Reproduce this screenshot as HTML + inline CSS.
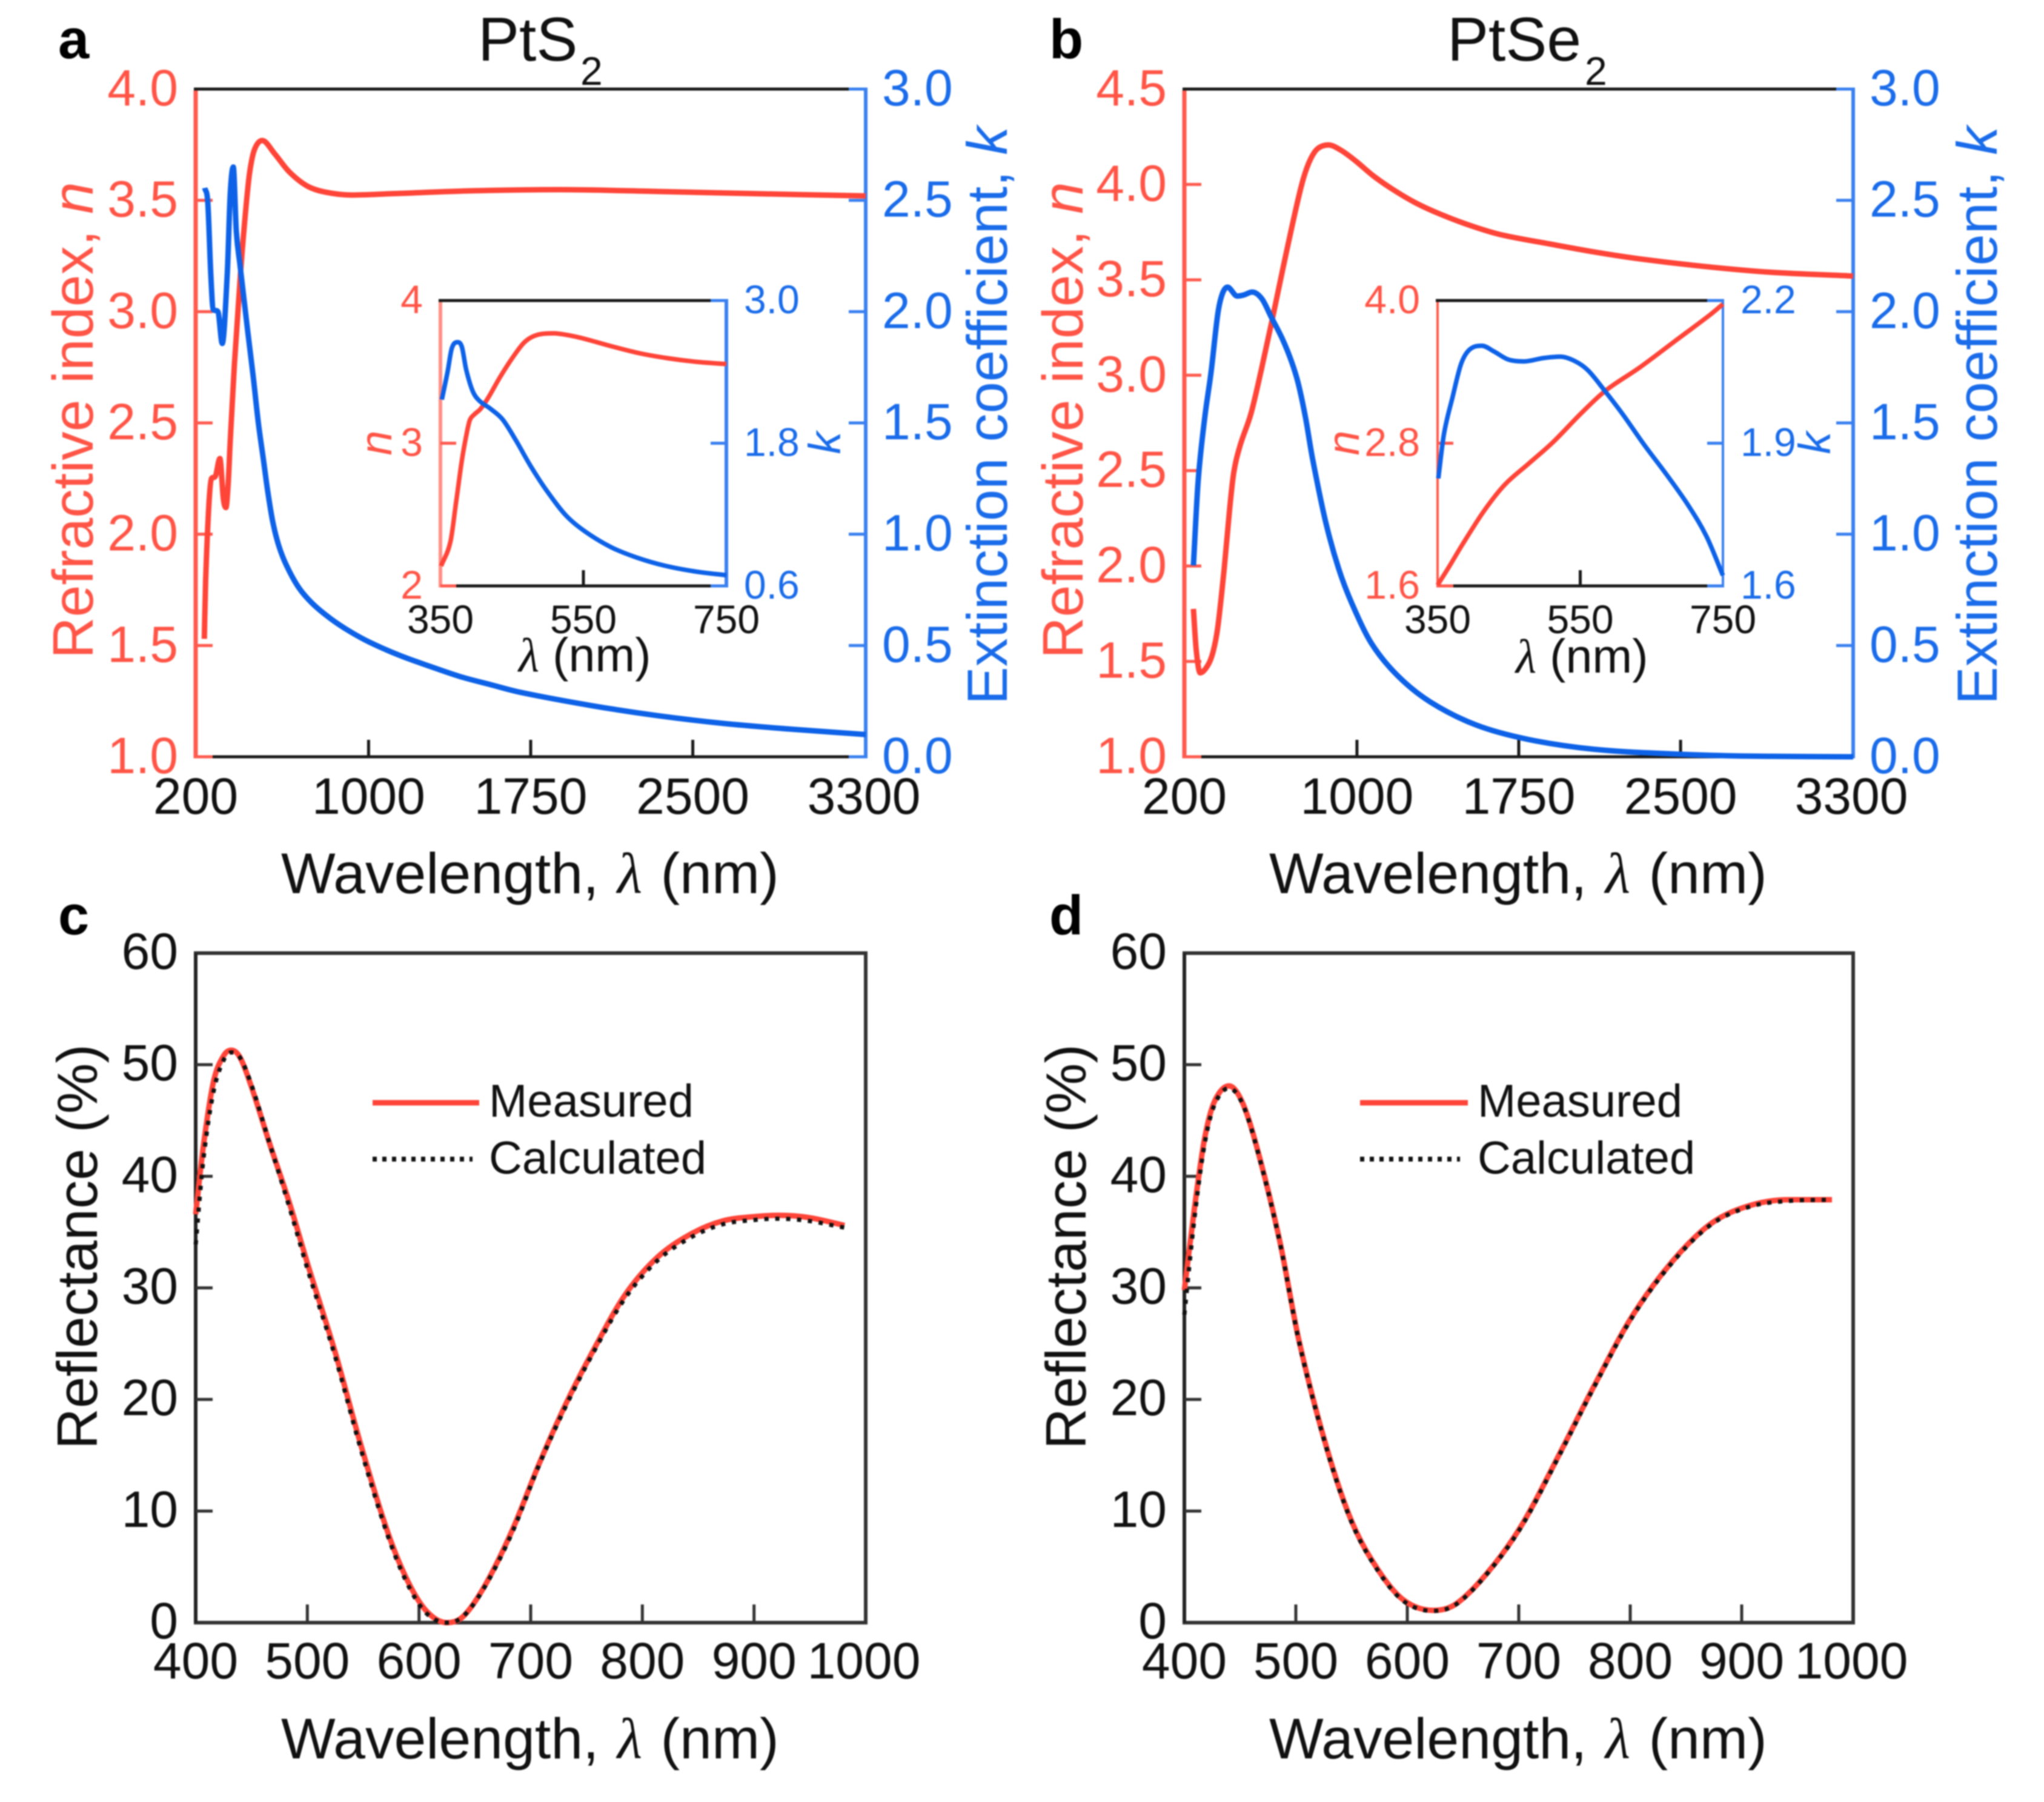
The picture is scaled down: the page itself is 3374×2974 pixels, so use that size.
<!DOCTYPE html>
<html lang="en">
<head>
<meta charset="utf-8">
<title>PtS2 and PtSe2 optical constants and reflectance</title>
<style>
html,body{margin:0;padding:0;background:#fff;}
svg{display:block;filter:blur(1px);}
text{font-family:"Liberation Sans",sans-serif;}
.lam{font-family:"Liberation Serif",serif;font-style:italic;}
.it{font-style:italic;}
.red{fill:#ff5547;}
.blue{fill:#1a6cea;}
.blk{fill:#111;}
.title{font-size:95px;}
.title-k{font-size:94px;}
.leg{font-size:76px;}
.letter{font-size:92px;font-weight:bold;fill:#000;}
</style>
</head>
<body>
<svg id="fig" xmlns="http://www.w3.org/2000/svg" width="3374" height="2974" viewBox="0 0 3374 2974">
  <rect width="3374" height="2974" fill="#fff"/>

  <text class="letter" x="96" y="96">a</text>
  <text class="letter" x="1732" y="96">b</text>
  <text class="letter" x="96" y="1542">c</text>
  <text class="letter" x="1732" y="1542">d</text>

  <text class="blk" x="789" y="100" font-size="102">PtS</text>
  <text class="blk" x="958" y="140" font-size="66">2</text>
  <text class="blk" x="2389" y="100" font-size="102">PtSe</text>
  <text class="blk" x="2616" y="140" font-size="66">2</text>

  <g id="plots"></g>

  <text class="title blk" x="464" y="1474">Wavelength, <tspan class="lam" dx="4">λ</tspan><tspan dx="4"> (nm)</tspan></text>
  <text class="title blk" x="2095" y="1474">Wavelength, <tspan class="lam" dx="4">λ</tspan><tspan dx="4"> (nm)</tspan></text>
  <text class="title blk" x="464" y="2902">Wavelength, <tspan class="lam" dx="4">λ</tspan><tspan dx="4"> (nm)</tspan></text>
  <text class="title blk" x="2095" y="2902">Wavelength, <tspan class="lam" dx="4">λ</tspan><tspan dx="4"> (nm)</tspan></text>

  <text class="title red" transform="translate(153,1087) rotate(-90)">Refractive index, <tspan class="it">n</tspan></text>
  <text class="title-k blue" transform="translate(1662,1163) rotate(-90)">Extinction coefficient, <tspan class="it">k</tspan></text>
  <text class="title red" transform="translate(1787,1087) rotate(-90)">Refractive index, <tspan class="it">n</tspan></text>
  <text class="title-k blue" transform="translate(3296,1163) rotate(-90)">Extinction coefficient, <tspan class="it">k</tspan></text>
  <text class="title-k blk" transform="translate(160,2392) rotate(-90)">Reflectance (%)</text>
  <text class="title-k blk" transform="translate(1792,2392) rotate(-90)">Reflectance (%)</text>

  <text class="blk" x="856" y="1108" font-size="79"><tspan class="lam">λ</tspan> (nm)</text>
  <text class="blk" x="2502" y="1110" font-size="79"><tspan class="lam">λ</tspan> (nm)</text>
  <text class="red it" font-size="74" text-anchor="middle" transform="translate(646,731) rotate(-90)">n</text>
  <text class="blue it" font-size="74" text-anchor="middle" transform="translate(1387,731) rotate(-90)">k</text>
  <text class="red it" font-size="74" text-anchor="middle" transform="translate(2243,731) rotate(-90)">n</text>
  <text class="blue it" font-size="74" text-anchor="middle" transform="translate(3021,731) rotate(-90)">k</text>

  <line x1="615" y1="1820" x2="791" y2="1820" stroke="#ff4438" stroke-width="9"/>
  <line x1="615" y1="1913" x2="780" y2="1913" stroke="#111" stroke-width="8" stroke-dasharray="7 9"/>
  <text class="leg blk" x="807" y="1843">Measured</text>
  <text class="leg blk" x="807" y="1937">Calculated</text>
  <line x1="2245" y1="1820" x2="2423" y2="1820" stroke="#ff4438" stroke-width="9"/>
  <line x1="2245" y1="1913" x2="2410" y2="1913" stroke="#111" stroke-width="8" stroke-dasharray="7 9"/>
  <text class="leg blk" x="2439" y="1843">Measured</text>
  <text class="leg blk" x="2439" y="1937">Calculated</text>
</svg>

<script>
/* ---------- Panel a main data ---------- */
const aNWave = [240,246,261,273,291,312,328,340,350,360,379,407,430,449,472,508,565,631,715,800,920,1108,1480,1880,2336,2792,3300];
const aNVals = [1.53,1.79,2.13,2.25,2.26,2.34,2.16,2.12,2.22,2.42,2.76,3.167,3.44,3.62,3.728,3.769,3.71,3.63,3.565,3.537,3.524,3.53,3.543,3.548,3.54,3.53,3.52];
const aKWave = [242,256,270,281,303,323,346,360,374,388,405,441,466,490,514,533,556,584,620,677,743,828,912,1004,1145,1285,1425,1565,1705,2031,2336,2640,2944,3300];
const aKVals = [2.556,2.49,2.167,2.01,2.0,1.857,2.167,2.53,2.65,2.36,2.21,1.91,1.71,1.5,1.331,1.195,1.059,0.95,0.86,0.76,0.686,0.618,0.564,0.515,0.455,0.406,0.36,0.324,0.289,0.23,0.185,0.15,0.125,0.10];
/* ---------- Panel a inset data ---------- */
const aInWaveN = [351,364,372,380,386,391,397,406,417,433,451,468,486,508,531,553,589,629,669,709,750];
const aInN = [2.14,2.31,2.59,2.88,3.05,3.16,3.2,3.24,3.32,3.46,3.6,3.71,3.76,3.77,3.755,3.73,3.68,3.63,3.595,3.57,3.555];
const aInWaveK = [352,360,366,374,380,386,395,404,420,437,455,477,500,526,553,589,624,664,708,750];
const aInK = [2.167,2.40,2.60,2.65,2.61,2.42,2.24,2.16,2.09,2.0,1.83,1.6,1.39,1.19,1.055,0.925,0.84,0.77,0.72,0.69];
/* ---------- Panel b main data ---------- */
const bNWave = [242,255,273,309,333,355,385,410,429,458,509,557,607,658,720,753,784,818,868,925,992,1076,1169,1273,1385,1525,1666,1899,2106,2309,2612,2915,3300];
const bNVals = [1.775,1.56,1.44,1.48,1.55,1.68,1.99,2.3,2.49,2.63,2.8,3.03,3.29,3.566,3.887,4.036,4.131,4.188,4.207,4.18,4.125,4.045,3.972,3.903,3.845,3.785,3.737,3.687,3.645,3.61,3.57,3.54,3.52];
const bKWave = [242,264,294,324,355,376,400,445,476,514,559,602,655,697,728,762,794,855,915,976,1067,1188,1339,1552,1794,2097,2460,2824,3300];
const bKVals = [0.86,1.24,1.52,1.73,1.99,2.08,2.11,2.07,2.075,2.088,2.058,1.977,1.876,1.775,1.677,1.522,1.34,1.055,0.846,0.69,0.51,0.365,0.247,0.143,0.078,0.034,0.013,0.003,0];
/* ---------- Panel b inset data ---------- */
const bInWaveN = [350,366,385,415,444,478,512,551,585,634,683,732,750];
const bInN = [1.607,1.76,1.95,2.23,2.45,2.63,2.81,3.05,3.24,3.44,3.66,3.88,3.97];
const bInWaveK = [351,359,371,383,395,412,429,449,471,498,522,542,561,585,610,639,673,702,727,750];
const bInK = [1.826,1.92,1.997,2.067,2.097,2.105,2.093,2.076,2.072,2.079,2.082,2.073,2.053,2.009,1.96,1.898,1.83,1.768,1.704,1.622];
/* ---------- Panel c data ---------- */
const cWave = [400,407,416,425,432,440,451,466,484,501,525,548,572,590,607,625,640,660,684,707,731,755,784,813,843,872,902,922,949,981];
const cMeasured = [36.6,42.8,48.5,50.8,51.3,50.6,47.7,43,37.6,31.9,24.2,15.9,8.1,3.7,1.0,0,0.6,3.5,8.4,14.1,19.5,24.2,29.3,32.7,34.8,36,36.4,36.5,36.3,35.6];
const cCalculated = [33.9,41.6,47.6,50.4,51.1,50.6,47.9,43,37.2,31.4,23.8,15.5,7.8,3.4,0.8,0,0.6,3.4,8.2,14,19.3,24,29,32.4,34.5,35.7,36.1,36.2,36,35.4];
/* ---------- Panel d data ---------- */
const dWave = [400,409,418,427,440,453,468,486,503,527,550,574,597,623,644,673,703,738,767,802,838,873,908,943,981];
const dMeasured = [29.8,37.1,43.3,46.7,48.1,46.4,41.5,34,25.2,15.9,9.1,4.7,2.0,1.1,1.7,4.6,8.8,15.4,21.1,27.5,32.4,35.8,37.4,37.9,37.9];
const dCalculated = [27.6,36.2,42.8,46.4,47.9,46.3,41.4,33.9,25.1,15.8,9.0,4.6,1.9,1.05,1.65,4.55,8.7,15.3,21,27.4,32.3,35.7,37.3,37.8,37.9];
/* ---------- Tick values and labels ---------- */
const mainXTicks = [200,1000,1750,2500,3300];
const mainXLabels = ['200','1000','1750','2500','3300'];
const aNTicks = [1,1.5,2,2.5,3,3.5,4];
const aNLabels = ['1.0','1.5','2.0','2.5','3.0','3.5','4.0'];
const bNTicks = [1,1.5,2,2.5,3,3.5,4,4.5];
const bNLabels = ['1.0','1.5','2.0','2.5','3.0','3.5','4.0','4.5'];
const mainKTicks = [0,0.5,1,1.5,2,2.5,3];
const mainKLabels = ['0.0','0.5','1.0','1.5','2.0','2.5','3.0'];
const insetXTicks = [350,550,750];
const insetXLabels = ['350','550','750'];
const aInNTicks = [2,3,4];
const aInNLabels = ['2','3','4'];
const aInKTicks = [0.6,1.8,3.0];
const aInKLabels = ['0.6','1.8','3.0'];
const bInNTicks = [1.6,2.8,4.0];
const bInNLabels = ['1.6','2.8','4.0'];
const bInKTicks = [1.6,1.9,2.2];
const bInKLabels = ['1.6','1.9','2.2'];
const refXTicks = [400,500,600,700,800,900,1000];
const refXLabels = ['400','500','600','700','800','900','1000'];
const refYTicks = [0,10,20,30,40,50,60];
const refYLabels = ['0','10','20','30','40','50','60'];

const SVGNS = 'http://www.w3.org/2000/svg';
const root = document.getElementById('plots');
const RED = '#ff4438', BLUE = '#0d62e8', AXRED = '#ff5a4e', AXBLUE = '#3a80f0', BLACK = '#1a1a1a';

function line(name, x1, y1, x2, y2, color, w) {
  const el = document.createElementNS(SVGNS, 'line');
  
  
  el.setAttribute('x1', x1);
  el.setAttribute('y1', y1);
  el.setAttribute('x2', x2);
  el.setAttribute('y2', y2);
  el.setAttribute('stroke', color);
  el.setAttribute('stroke-width', w);
  root.appendChild(el);
}
function label(name, x, y, txt, anchor, size, cls) {
  const el = document.createElementNS(SVGNS, 'text');
  
  
  el.setAttribute('x', x);
  el.setAttribute('y', y);
  el.setAttribute('text-anchor', anchor);
  el.setAttribute('font-size', size);
  el.setAttribute('class', cls);
  el.textContent = txt;
  root.appendChild(el);
}
function scale(d0, d1, p0, p1) {
  return function (v) { return p0 + (v - d0) * (p1 - p0) / (d1 - d0); };
}
/* Smooth cubic path: centred tangents, limited so peaks do not overshoot */
function curvePath(xs, ys) {
  const n = xs.length, m = [], t = [];
  for (let i = 0; i < n - 1; i++) t.push((ys[i + 1] - ys[i]) / (xs[i + 1] - xs[i]));
  m.push(t[0]);
  for (let i = 1; i < n - 1; i++) {
    if (t[i - 1] * t[i] <= 0) m.push(0);
    else {
      const c = (ys[i + 1] - ys[i - 1]) / (xs[i + 1] - xs[i - 1]);
      const lim = 3 * Math.min(Math.abs(t[i - 1]), Math.abs(t[i]));
      m.push(Math.sign(c) * Math.min(Math.abs(c), lim));
    }
  }
  m.push(t[n - 2]);
  let d = 'M' + xs[0].toFixed(2) + ' ' + ys[0].toFixed(2);
  for (let i = 0; i < n - 1; i++) {
    const h = (xs[i + 1] - xs[i]) / 3;
    d += 'C' + (xs[i] + h).toFixed(2) + ' ' + (ys[i] + m[i] * h).toFixed(2) + ' ' +
      (xs[i + 1] - h).toFixed(2) + ' ' + (ys[i + 1] - m[i + 1] * h).toFixed(2) + ' ' +
      xs[i + 1].toFixed(2) + ' ' + ys[i + 1].toFixed(2);
  }
  return d;
}
function series(name, wave, vals, xS, yS, color, w, dash) {
  const el = document.createElementNS(SVGNS, 'path');
  
  
  el.setAttribute('d', curvePath(wave.map(xS), vals.map(yS)));
  el.setAttribute('fill', 'none');
  el.setAttribute('stroke', color);
  el.setAttribute('stroke-width', w);
  if (dash) el.setAttribute('stroke-dasharray', dash);
  root.appendChild(el);
}

/* Dual-axis panel (n on left, k on right) */
function dual(p) {
  const xS = scale(p.xMin, p.xMax, p.l, p.r);
  const nS = scale(p.nMin, p.nMax, p.b, p.t);
  const kS = scale(p.kMin, p.kMax, p.b, p.t);
  line(p.id + '-top-axis', p.l - 3, p.t, p.r, p.t, BLACK, p.axis);
  line(p.id + '-bottom-axis', p.l, p.b, p.r, p.b, BLACK, p.axis);
  p.xTicks.forEach(function (v, i) {
    if (i > 0 && i < p.xTicks.length - 1) line(p.id + '-x-tick-' + p.xLabels[i], xS(v), p.b, xS(v), p.b - p.tick, BLACK, 5);
    label(p.id + '-x-label-' + p.xLabels[i], xS(v) + (i === p.xTicks.length - 1 ? p.lastShift : 0), p.xBase, p.xLabels[i], 'middle', p.font, 'blk');
  });
  line(p.id + '-left-axis', p.l, p.t + p.axis / 2, p.l, p.b + p.axis / 2, p.lc, p.lw);
  line(p.id + '-right-axis', p.r, p.t - p.axis / 2, p.r, p.b + p.axis / 2, AXBLUE, p.rw);
  p.nTicks.forEach(function (v, i) {
    if (v !== p.nMax) line(p.id + '-n-tick-' + p.nLabels[i], p.l, nS(v), p.l + p.tick, nS(v), AXRED, p.tw);
    label(p.id + '-n-label-' + p.nLabels[i], p.lx, nS(v) + p.dy, p.nLabels[i], 'end', p.font, 'red');
  });
  p.kTicks.forEach(function (v, i) {
    line(p.id + '-k-tick-' + p.kLabels[i], p.r, kS(v), p.r - p.tick, kS(v), AXBLUE, p.tw);
    label(p.id + '-k-label-' + p.kLabels[i], p.rx, kS(v) + p.dy, p.kLabels[i], 'start', p.font, 'blue');
  });
  series(p.id + '-curve-n', p.nWave, p.nVals, xS, nS, RED, p.cw);
  series(p.id + '-curve-k', p.kWave, p.kVals, xS, kS, BLUE, p.cw);
}

/* Reflectance panel */
function reflect(p) {
  const xS = scale(400, 1000, p.l, p.r);
  const yS = scale(0, 60, p.b, p.t);
  line(p.id + '-top-axis', p.l - 3, p.t, p.r + 3, p.t, '#333', 6);
  line(p.id + '-bottom-axis', p.l - 3, p.b, p.r + 3, p.b, '#333', 6);
  line(p.id + '-left-axis', p.l, p.t, p.l, p.b, '#222', 6);
  line(p.id + '-right-axis', p.r, p.t, p.r, p.b, '#333', 6);
  refXTicks.forEach(function (v, i) {
    if (i > 0 && i < refXTicks.length - 1) line(p.id + '-x-tick-' + refXLabels[i], xS(v), p.b, xS(v), p.b - 30, '#333', 5);
    label(p.id + '-x-label-' + refXLabels[i], xS(v) + (i === refXTicks.length - 1 ? -3 : 0), 2770, refXLabels[i], 'middle', 84, 'blk');
  });
  refYTicks.forEach(function (v, i) {
    if (i > 0 && i < refYTicks.length - 1) line(p.id + '-y-tick-' + refYLabels[i], p.l, yS(v), p.l + 28, yS(v), '#333', 5);
    label(p.id + '-y-label-' + refYLabels[i], p.lx, yS(v) + 26, refYLabels[i], 'end', 84, 'blk');
  });
  series(p.id + '-curve-measured', p.wave, p.meas, xS, yS, RED, 9);
  series(p.id + '-curve-calculated', p.wave, p.calc, xS, yS, '#111', 7, '7 11');
}

dual({id:'panel-a',l:323,r:1429,t:147,b:1249,xMin:200,xMax:3300,nMin:1,nMax:4,kMin:0,kMax:3,
  xTicks:mainXTicks,xLabels:mainXLabels,nTicks:aNTicks,nLabels:aNLabels,kTicks:mainKTicks,kLabels:mainKLabels,
  nWave:aNWave,nVals:aNVals,kWave:aKWave,kVals:aKVals,lc:AXRED,
  axis:5,lw:7,rw:6,tw:5,tick:28,cw:9,font:84,lx:294,rx:1456,dy:27,xBase:1343,lastShift:-3});
dual({id:'panel-b',l:1955,r:3059,t:147,b:1249,xMin:200,xMax:3300,nMin:1,nMax:4.5,kMin:0,kMax:3,
  xTicks:mainXTicks,xLabels:mainXLabels,nTicks:bNTicks,nLabels:bNLabels,kTicks:mainKTicks,kLabels:mainKLabels,
  nWave:bNWave,nVals:bNVals,kWave:bKWave,kVals:bKVals,lc:AXRED,
  axis:5,lw:7,rw:6,tw:5,tick:28,cw:9,font:84,lx:1926,rx:3086,dy:27,xBase:1343,lastShift:-3});
dual({id:'inset-a',l:727,r:1199,t:496,b:967,xMin:350,xMax:750,nMin:2,nMax:4,kMin:0.6,kMax:3,
  xTicks:insetXTicks,xLabels:insetXLabels,nTicks:aInNTicks,nLabels:aInNLabels,kTicks:aInKTicks,kLabels:aInKLabels,
  nWave:aInWaveN,nVals:aInN,kWave:aInWaveK,kVals:aInK,lc:'#ff8f86',
  axis:5,lw:6,rw:6,tw:5,tick:26,cw:7.5,font:66,lx:698,rx:1228,dy:21,xBase:1045,lastShift:0});
dual({id:'inset-b',l:2373,r:2844,t:496,b:967,xMin:350,xMax:750,nMin:1.6,nMax:4,kMin:1.6,kMax:2.2,
  xTicks:insetXTicks,xLabels:insetXLabels,nTicks:bInNTicks,nLabels:bInNLabels,kTicks:bInKTicks,kLabels:bInKLabels,
  nWave:bInWaveN,nVals:bInN,kWave:bInWaveK,kVals:bInK,lc:AXRED,
  axis:5,lw:4,rw:4,tw:5,tick:26,cw:7.5,font:66,lx:2344,rx:2873,dy:21,xBase:1045,lastShift:0});
reflect({id:'panel-c',l:323,r:1429,t:1573,b:2678,lx:294,wave:cWave,meas:cMeasured,calc:cCalculated});
reflect({id:'panel-d',l:1955,r:3059,t:1573,b:2678,lx:1926,wave:dWave,meas:dMeasured,calc:dCalculated});
</script>
</body>
</html>
